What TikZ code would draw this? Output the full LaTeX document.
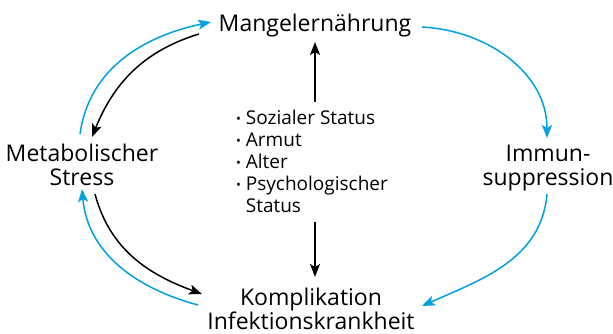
\documentclass[tikz,border=0pt]{standalone}
\usepackage{fontspec}
\setmainfont{Open Sans}
\usetikzlibrary{arrows.meta}
\definecolor{cyanarrow}{RGB}{0,160,227}
\newcommand\lbul{\raisebox{1.6pt}{\fontsize{13}{13}\selectfont\textbullet}\hspace{5pt}}
\begin{document}
\begin{tikzpicture}[x=1pt,y=1pt,
 lbl/.style={inner sep=0pt, outer sep=0pt, font=\fontsize{23}{24}\selectfont, align=center},
 lst/.style={inner sep=0pt, outer sep=0pt, font=\fontsize{19}{22}\selectfont, align=left},
 conn/.style={line width=1.5pt, -{Stealth[length=13pt,width=10pt,inset=3pt]}},
 bluec/.style={conn, color=cyanarrow},
 blackc/.style={conn, color=black}]
\useasboundingbox (0,0) rectangle (613,334);
\node[lbl, anchor=base] (mangel) at (315,302.5) {Mangelernährung};
\node[lbl, anchor=base] (meta) at (82,148) {Metabolischer\\Stress};
\node[lbl, anchor=base] (immun) at (548,148) {Immun-\\suppression};
\node[lbl, anchor=base] (kompl) at (311,4.3) {Komplikation\\Infektionskrankheit};
\node[lst, anchor=base west] (list) at (236,121) {\lbul Sozialer Status\\\lbul Armut\\\lbul Alter\\\lbul Psychologischer\\\phantom{\lbul}Status};
\draw[blackc] ([shift={(0,111)}]list.base -| mangel.base) -- ([yshift=-10.5]mangel.base);
\draw[blackc] ([yshift=-9]list.base -| mangel.base) -- ([shift={(4,52.7)}]kompl.base);
\draw[bluec] ([shift={(-2,52)}]meta.base) to[out=82,in=192] ([shift={(-104,9.5)}]mangel.base);
\draw[blackc] ([shift={(-116,-2.5)}]mangel.base) to[out=197,in=68] ([shift={(10,49)}]meta.base);
\draw[bluec] ([shift={(107,4.5)}]mangel.base) to[out=-3,in=90] ([shift={(-1,48)}]immun.base);
\draw[bluec] ([shift={(-1,-8)}]immun.base) to[out=265,in=24] ([shift={(111,23.7)}]kompl.base);
\draw[blackc] ([shift={(13,-8)}]meta.base) to[out=-75,in=160] ([shift={(-109,35.7)}]kompl.base);
\draw[bluec] ([shift={(-113,24.7)}]kompl.base) to[out=165,in=-85] ([shift={(0,-3)}]meta.base);
\end{tikzpicture}
\end{document}
